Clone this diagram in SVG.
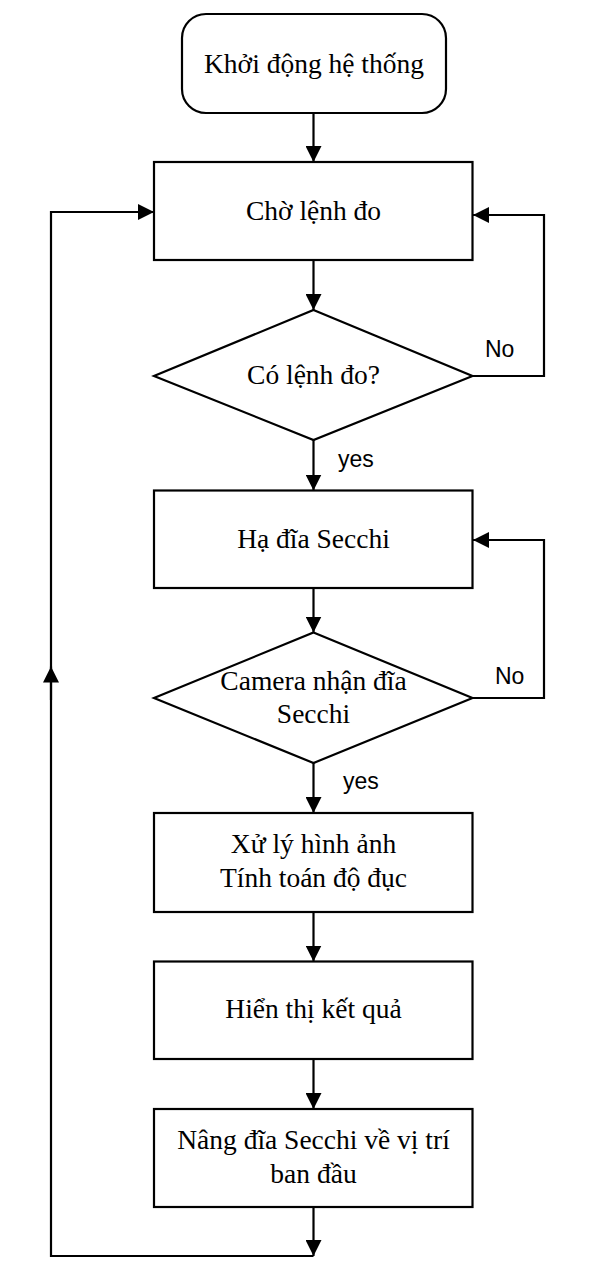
<svg xmlns="http://www.w3.org/2000/svg" width="590" height="1281" viewBox="0 0 590 1281">
<defs>
<style>
.box{fill:#fff;stroke:#000;stroke-width:2.2}
.t{font-family:"Liberation Serif","Times New Roman",serif;font-size:27.5px;fill:#000;text-anchor:middle}
.l{font-family:"Liberation Sans",Arial,sans-serif;font-size:23px;fill:#000}
.c{fill:none;stroke:#000;stroke-width:2.2}
</style>
<marker id="ah" markerWidth="16" markerHeight="16" viewBox="0 0 16 16" refX="16" refY="8" orient="auto" markerUnits="userSpaceOnUse">
<path d="M0,0 L16,8 L0,16 Z" fill="#000"/>
</marker>
</defs>
<rect width="590" height="1281" fill="#fff"/>
<g id="connectors">
<line class="c" x1="313.5" y1="113" x2="313.5" y2="162" marker-end="url(#ah)"/>
<line class="c" x1="313.5" y1="260" x2="313.5" y2="310" marker-end="url(#ah)"/>
<polyline class="c" points="472.5,376 544,376 544,215 473,215" marker-end="url(#ah)"/>
<line class="c" x1="313.5" y1="440" x2="313.5" y2="490.5" marker-end="url(#ah)"/>
<line class="c" x1="313.5" y1="588" x2="313.5" y2="632.5" marker-end="url(#ah)"/>
<polyline class="c" points="472.5,698 544,698 544,540 473,540" marker-end="url(#ah)"/>
<line class="c" x1="313.5" y1="763" x2="313.5" y2="813" marker-end="url(#ah)"/>
<line class="c" x1="313.5" y1="912" x2="313.5" y2="961.5" marker-end="url(#ah)"/>
<line class="c" x1="313.5" y1="1059" x2="313.5" y2="1109" marker-end="url(#ah)"/>
<line class="c" x1="313.5" y1="1207" x2="313.5" y2="1256" marker-end="url(#ah)"/>
<polyline class="c" points="313.5,1256 51,1256 51,212 154,212" marker-end="url(#ah)"/>
<line class="c" x1="51" y1="700" x2="51" y2="666.5" marker-end="url(#ah)"/>
<text class="l" x="485" y="357">No</text>
<text class="l" x="338" y="467">yes</text>
<text class="l" x="495" y="684">No</text>
<text class="l" x="343" y="789">yes</text>
</g>
<g id="start">
<rect class="box" x="182" y="14" width="264" height="99" rx="24" ry="24"/>
<text class="t" x="314" y="73">Khởi động hệ thống</text>
</g>
<g id="wait">
<rect class="box" x="154" y="162" width="318.5" height="98"/>
<text class="t" x="313.5" y="220">Chờ lệnh đo</text>
</g>
<g id="check-cmd">
<polygon class="box" points="313.5,310 472.5,376 313.5,440 154,376"/>
<text class="t" x="313.5" y="384">Có lệnh đo?</text>
</g>
<g id="lower">
<rect class="box" x="154" y="490.5" width="318.5" height="97.5"/>
<text class="t" x="313.5" y="548">Hạ đĩa Secchi</text>
</g>
<g id="check-cam">
<polygon class="box" points="313.5,632.5 472.5,698 313.5,763 154,698"/>
<text class="t" x="313.5" y="690">Camera nhận đĩa</text>
<text class="t" x="313.5" y="723">Secchi</text>
</g>
<g id="process">
<rect class="box" x="154" y="813" width="318.5" height="99"/>
<text class="t" x="313.5" y="853">Xử lý hình ảnh</text>
<text class="t" x="313.5" y="887">Tính toán độ đục</text>
</g>
<g id="display">
<rect class="box" x="154" y="961.5" width="318.5" height="97.5"/>
<text class="t" x="313.5" y="1018">Hiển thị kết quả</text>
</g>
<g id="raise">
<rect class="box" x="154" y="1109" width="318.5" height="98"/>
<text class="t" x="313.5" y="1149">Nâng đĩa Secchi về vị trí</text>
<text class="t" x="313.5" y="1183">ban đầu</text>
</g>
</svg>
